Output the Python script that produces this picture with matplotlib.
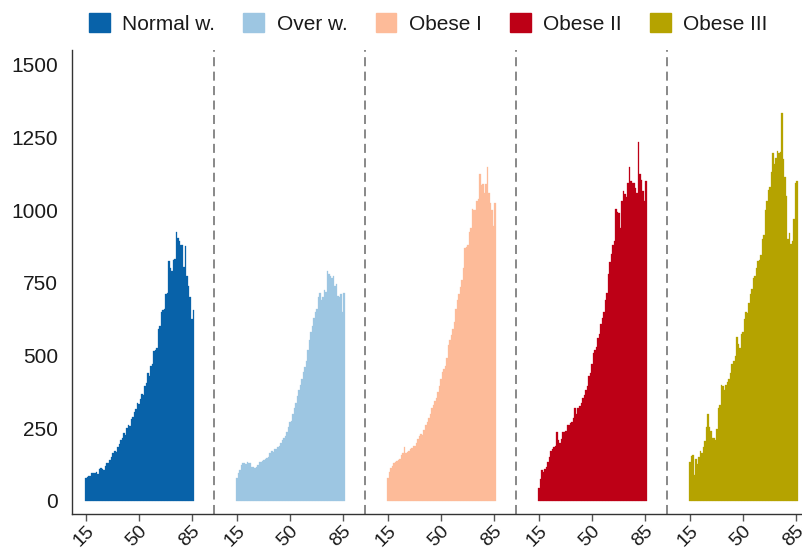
import numpy as np
import matplotlib
matplotlib.use("Agg")
import matplotlib.pyplot as plt
from matplotlib.patches import Patch

plt.rcParams["font.family"] = ["Liberation Sans", "DejaVu Sans"]

# ages shown in every group
ages = list(range(15, 87))

groups = ["Normal w.", "Over w.", "Obese I", "Obese II", "Obese III"]
colors = ["#0862a9", "#9dc6e2", "#fdbb99", "#bd0016", "#b5a300"]

normal_w = [80, 82, 85, 84, 95, 96, 95, 100, 92, 108, 112, 110, 105, 120, 130, 132, 142, 152,
            165, 172, 168, 185, 195, 208, 218, 235, 228, 250, 262, 258, 280, 290, 305, 315,
            335, 332, 350, 368, 365, 395, 405, 440, 430, 465, 470, 515, 520, 525, 590, 600,
            650, 655, 660, 710, 715, 825, 800, 790, 830, 832, 925, 905, 895, 880, 880, 805,
            875, 775, 740, 700, 625, 655]

over_w = [78, 96, 105, 125, 132, 130, 128, 133, 132, 130, 115, 118, 113, 115, 125, 135, 133,
          138, 140, 145, 148, 152, 165, 172, 168, 178, 180, 185, 190, 198, 210, 215, 222, 238,
          255, 270, 275, 300, 320, 335, 360, 380, 400, 420, 445, 460, 480, 520, 555, 580, 600,
          630, 650, 660, 700, 715, 690, 700, 725, 720, 790, 780, 775, 765, 775, 740, 745, 705,
          700, 710, 650, 715]

obese_1 = [80, 100, 112, 120, 130, 135, 138, 140, 145, 158, 165, 185, 165, 168, 172, 178, 182,
           188, 190, 200, 212, 222, 230, 228, 245, 262, 272, 285, 300, 318, 330, 345, 355, 375,
           395, 420, 445, 455, 465, 490, 535, 555, 570, 590, 615, 660, 690, 710, 735, 760, 800,
           870, 872, 880, 925, 940, 1005, 1000, 1000, 1030, 1040, 1125, 1085, 1090, 1060, 1090,
           1150, 1060, 1025, 1000, 945, 1025]

obese_2 = [45, 75, 105, 98, 110, 115, 135, 150, 172, 178, 185, 188, 238, 210, 198, 212, 238,
           238, 240, 260, 262, 268, 270, 285, 318, 300, 318, 328, 335, 355, 365, 380, 395, 430,
           440, 470, 510, 520, 530, 560, 575, 610, 630, 650, 690, 715, 780, 820, 850, 880, 895,
           1005, 995, 990, 940, 1030, 1065, 1055, 1045, 1095, 1150, 1100, 1095, 1095, 1075, 1060,
           1235, 1125, 1105, 1065, 1030, 1100]

obese_3 = [135, 155, 158, 90, 145, 128, 150, 172, 165, 185, 205, 255, 300, 255, 240, 218, 215,
           210, 248, 320, 330, 400, 395, 382, 400, 410, 420, 440, 470, 480, 500, 565, 540, 525,
           575, 580, 625, 650, 645, 680, 712, 730, 765, 775, 800, 825, 830, 845, 900, 915, 1000,
           1030, 1070, 1080, 1130, 1195, 1160, 1180, 1205, 1195, 1200, 1335, 1175, 1115, 1050,
           900, 920, 885, 895, 970, 1095, 1100]

series = [normal_w, over_w, obese_1, obese_2, obese_3]
tick_ages = [15, 50, 85]
gap = 100  # offset between groups on the shared x axis

fig = plt.figure(figsize=(8.02, 5.49), dpi=100)
ax = fig.add_axes([0.0898, 0.0638, 0.9102, 0.8452])

tick_pos = []
tick_lab = []
for k, (vals, col) in enumerate(zip(series, colors)):
    x = np.array(ages) + k * gap
    ax.bar(x, vals, width=1.0, color=col, edgecolor=col, linewidth=0.2)
    tick_pos += [t + k * gap for t in tick_ages]
    tick_lab += [str(t) for t in tick_ages]
    if k > 0:
        ax.axvline(k * gap, color="#7f7f7f", lw=1.3, ls=(0, (5, 3)))

ax.set_xlim(5.7, 489.2)
ax.set_ylim(-45, 1551)
ax.set_yticks([0, 250, 500, 750, 1000, 1250, 1500])
ax.set_xticks(tick_pos)
ax.set_xticklabels(tick_lab, rotation=45, ha="right", va="top", rotation_mode="anchor")

ax.tick_params(axis="y", length=0, pad=10, labelsize=15, labelcolor="#1a1a1a")
ax.tick_params(axis="x", length=5, width=1, color="#555555", pad=1, labelsize=14,
               labelcolor="#1a1a1a")
for side in ["top", "right"]:
    ax.spines[side].set_visible(False)
for side in ["left", "bottom"]:
    ax.spines[side].set_color("#333333")
    ax.spines[side].set_linewidth(1.0)

handles = [Patch(facecolor=c, edgecolor=c) for c in colors]
fig.legend(handles, groups, loc="center", bbox_to_anchor=(0.534, 0.957), ncol=5,
           frameon=False, fontsize=15, handlelength=1.0, handleheight=1.0,
           handletextpad=0.6, columnspacing=1.35, labelcolor="#1a1a1a")

fig.savefig("out.png", dpi=100)
